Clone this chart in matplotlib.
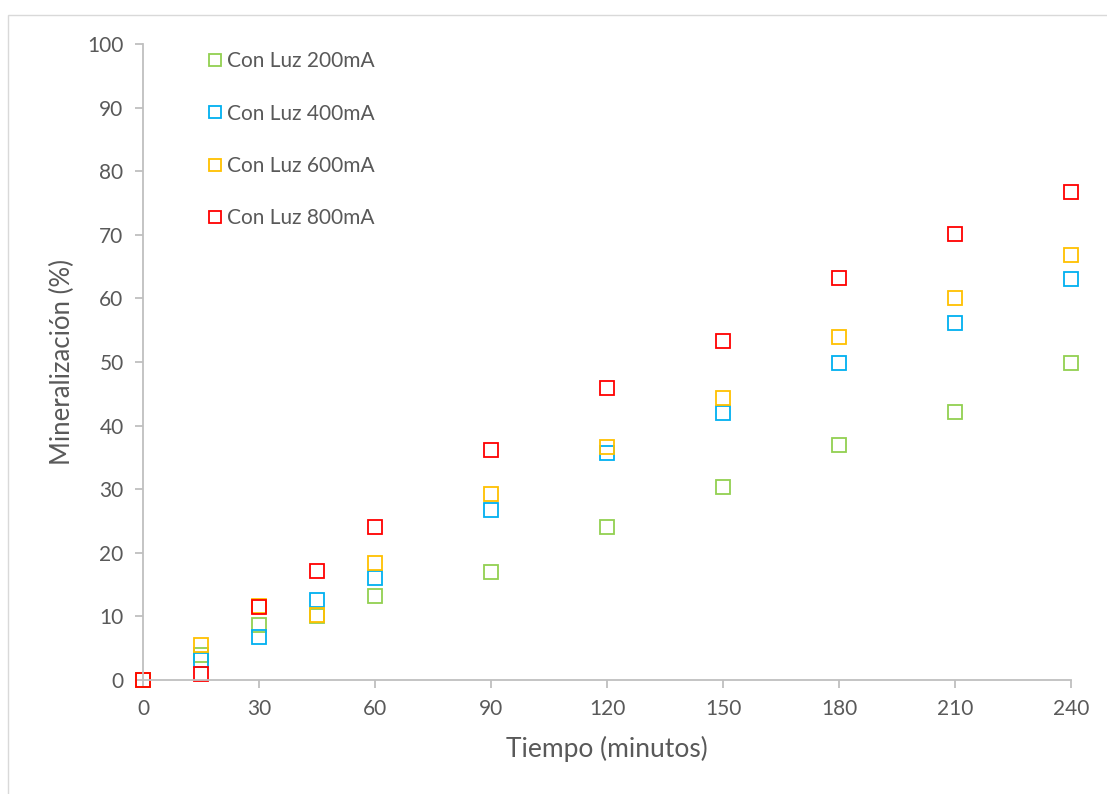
import matplotlib
matplotlib.use("Agg")
import matplotlib.pyplot as plt
from matplotlib.patches import Rectangle

plt.rcParams['font.family'] = ['Lato', 'DejaVu Sans']

tiempo = [0, 15, 30, 45, 60, 90, 120, 150, 180, 210, 240]
luz_200 = [0, 3.9, 8.6, 10.0, 13.2, 17.0, 24.0, 30.3, 36.9, 42.2, 49.8]
luz_400 = [0, 3.1, 6.7, 12.6, 16.0, 26.7, 35.7, 42.0, 49.9, 56.1, 63.1]
luz_600 = [0, 5.5, 11.7, 10.2, 18.4, 29.2, 36.6, 44.3, 53.9, 60.1, 66.9]
luz_800 = [0, 0.9, 11.5, 17.1, 24.1, 36.2, 45.9, 53.3, 63.2, 70.2, 76.8]

series = [
    ("Con Luz 200mA", luz_200, "#92D050"),
    ("Con Luz 400mA", luz_400, "#00B0F0"),
    ("Con Luz 600mA", luz_600, "#FFC000"),
    ("Con Luz 800mA", luz_800, "#FF0000"),
]

x_ticks = [0, 30, 60, 90, 120, 150, 180, 210, 240]
y_ticks = [0, 10, 20, 30, 40, 50, 60, 70, 80, 90, 100]

text_color = "#595959"
axis_color = "#BFBFBF"

fig = plt.figure(figsize=(11.07, 7.94), dpi=100)
ax = fig.add_axes([143 / 1107, 114 / 794, 928 / 1107, 636 / 794])

# chart-area border
fig.patches.append(Rectangle((8 / 1107, -0.05), 1.1, (779 / 794) + 0.05,
                             transform=fig.transFigure, fill=False,
                             edgecolor="#D9D9D9", linewidth=1.0))

for label, vals, color in series:
    ax.plot(tiempo, vals, linestyle="none", marker="s", markersize=10,
            markerfacecolor="none", markeredgecolor=color,
            markeredgewidth=1.3, label=label, clip_on=False)

ax.set_xlim(0, 240)
ax.set_ylim(0, 100)
ax.set_xticks(x_ticks)
ax.set_yticks(y_ticks)

for side in ("top", "right"):
    ax.spines[side].set_visible(False)
for side in ("left", "bottom"):
    ax.spines[side].set_color(axis_color)
    ax.spines[side].set_linewidth(1.3)

ax.tick_params(axis="both", colors=axis_color, labelcolor=text_color,
               labelsize=15, length=6, width=1.3, direction="out")
ax.tick_params(axis="x", pad=8)
ax.tick_params(axis="y", pad=8)

ax.set_xlabel("Tiempo (minutos)", fontsize=19, color=text_color, labelpad=12)
ax.set_ylabel("Mineralización (%)", fontsize=18.5, color=text_color, labelpad=9)

leg = ax.legend(loc="upper left", bbox_to_anchor=(198 / 1107, 1 - 41 / 794),
                bbox_transform=fig.transFigure, frameon=False,
                fontsize=15, labelspacing=1.55, handlelength=0.6,
                handletextpad=0.3, borderpad=0.0, markerscale=0.9)
for t in leg.get_texts():
    t.set_color(text_color)

fig.savefig("out.png", dpi=100)
